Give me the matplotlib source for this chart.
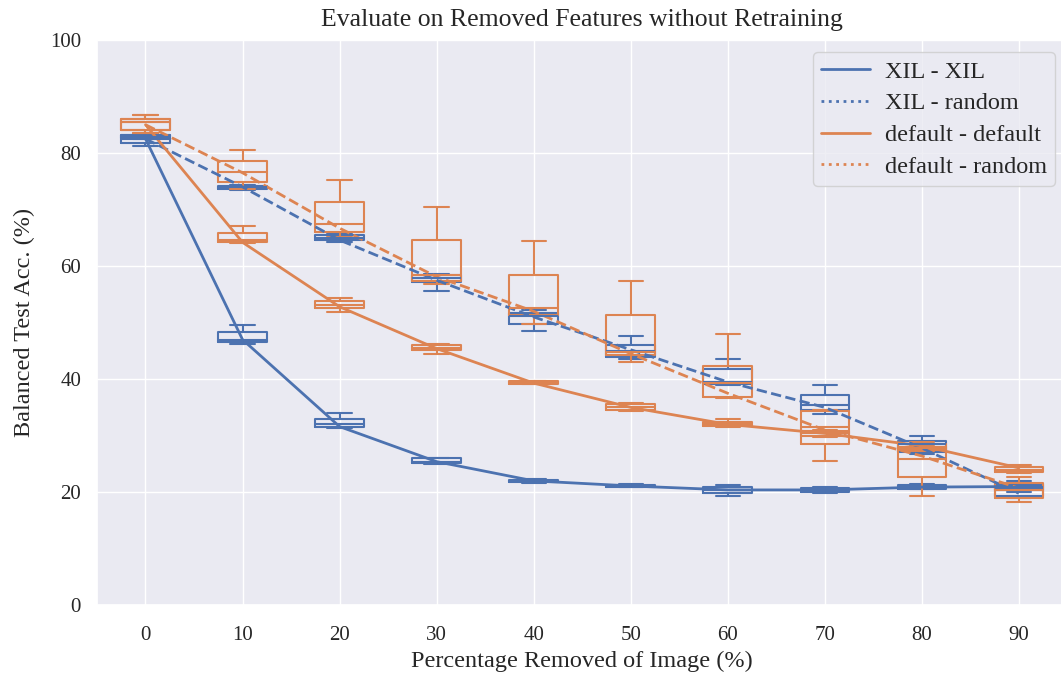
import numpy as np
import matplotlib
matplotlib.use('Agg')
import matplotlib.pyplot as plt
from matplotlib.lines import Line2D
import seaborn as sns

sns.set_theme(style='darkgrid')
plt.rcParams['font.family'] = ['Liberation Serif', 'DejaVu Serif']

removed = [0, 10, 20, 30, 40, 50, 60, 70, 80, 90]

# box stats per x: whislo, q1, med, q3, whishi
xil_xil_box = [[81.2, 81.7, 82.4, 83.2, 83.4], [46.3, 46.6, 47.0, 48.3, 49.6],
               [31.4, 31.6, 32.0, 32.9, 34.0], [25.0, 25.1, 25.4, 26.0, 26.1],
               [21.7, 21.8, 22.0, 22.2, 22.3], [20.9, 21.0, 21.1, 21.3, 21.4],
               [19.3, 19.9, 20.4, 20.9, 21.2], [19.9, 20.1, 20.4, 20.7, 20.9],
               [20.5, 20.6, 20.9, 21.3, 21.5], [20.1, 20.4, 20.9, 21.2, 21.4]]
xil_random_box = [[82.4, 82.6, 82.9, 83.2, 83.4], [73.5, 73.7, 74.0, 74.2, 74.4],
                  [64.3, 64.6, 65.0, 65.5, 65.8], [55.6, 57.1, 57.9, 58.4, 58.6],
                  [48.5, 49.7, 51.2, 51.7, 52.2], [43.5, 43.9, 45.0, 46.1, 47.6],
                  [39.0, 39.2, 39.5, 41.8, 43.5], [33.8, 34.5, 35.4, 37.2, 38.9],
                  [26.8, 27.1, 28.5, 29.1, 30.0], [19.0, 19.3, 20.6, 21.5, 22.0]]
default_default_box = [[83.6, 84.1, 85.5, 86.1, 86.7], [64.0, 64.3, 64.6, 65.8, 67.0],
                       [51.9, 52.5, 53.1, 53.8, 54.4], [44.5, 45.1, 45.5, 46.0, 46.3],
                       [39.1, 39.2, 39.4, 39.6, 39.7], [34.4, 34.6, 35.1, 35.6, 35.8],
                       [31.5, 31.7, 32.0, 32.4, 33.0], [29.8, 30.0, 30.4, 30.8, 31.0],
                       [27.3, 27.5, 27.9, 28.5, 28.8], [23.4, 23.6, 24.0, 24.5, 24.8]]
default_random_box = [[83.6, 84.1, 85.5, 86.1, 86.7], [73.6, 74.9, 76.6, 78.6, 80.5],
                      [65.2, 66.1, 67.4, 71.3, 75.3], [56.9, 57.3, 58.4, 64.6, 70.4],
                      [49.7, 51.3, 52.5, 58.4, 64.5], [43.1, 44.2, 44.8, 51.3, 57.4],
                      [36.7, 36.9, 39.3, 42.4, 47.9], [25.5, 28.5, 31.6, 34.4, 34.6],
                      [19.3, 22.6, 25.8, 28.0, 28.4], [18.3, 18.9, 20.3, 21.7, 22.6]]

# mean lines
xil_xil_mean = [82.5, 47.0, 31.6, 25.4, 22.0, 21.1, 20.4, 20.4, 20.9, 21.0]
xil_random_mean = [82.5, 74.0, 64.6, 57.5, 51.0, 45.2, 39.5, 35.0, 27.8, 19.8]
default_default_mean = [85.0, 64.2, 52.8, 45.4, 39.3, 35.0, 32.0, 30.4, 28.2, 24.3]
default_random_mean = [85.0, 76.5, 66.7, 58.1, 52.0, 44.5, 37.5, 31.0, 26.4, 20.7]

blue = '#4c72b0'
orange = '#dd8452'

fig = plt.figure(figsize=(10.61, 6.77), dpi=100)
# original figure looks cropped on the right, so the axes runs a bit past the edge
ax = fig.add_axes([0.0914, 0.106, 0.9146, 0.835])

def draw_boxes(boxes, color):
    stats = []
    for b in boxes:
        stats.append(dict(whislo=b[0], q1=b[1], med=b[2], q3=b[3], whishi=b[4], fliers=[]))
    lp = dict(color=color, linewidth=1.5)
    ax.bxp(stats, positions=removed, widths=5, showfliers=False, patch_artist=False,
           boxprops=lp, whiskerprops=lp, capprops=lp, medianprops=lp, manage_ticks=False)

draw_boxes(xil_xil_box, blue)
draw_boxes(xil_random_box, blue)
draw_boxes(default_default_box, orange)
draw_boxes(default_random_box, orange)

ax.plot(removed, xil_xil_mean, color=blue, lw=2)
ax.plot(removed, xil_random_mean, color=blue, lw=2, ls='--')
ax.plot(removed, default_default_mean, color=orange, lw=2)
ax.plot(removed, default_random_mean, color=orange, lw=2, ls='--')

ax.set_xlim(-5, 95)
ax.set_ylim(0, 100)
ax.set_xticks(removed)
ax.set_yticks([0, 20, 40, 60, 80, 100])
ax.tick_params(labelsize=15)
ax.tick_params(axis='x', pad=9)
ax.tick_params(axis='y', pad=5.5)
ax.set_xlabel('Percentage Removed of Image (%)', fontsize=17.5)
ax.set_ylabel('Balanced Test Acc. (%)', fontsize=17.5, labelpad=11)
ax.set_title('Evaluate on Removed Features without Retraining', fontsize=18.5, pad=10)

handles = [Line2D([0], [0], color=blue, lw=2),
           Line2D([0], [0], color=blue, lw=2, ls=':'),
           Line2D([0], [0], color=orange, lw=2),
           Line2D([0], [0], color=orange, lw=2, ls=':')]
ax.legend(handles, ['XIL - XIL', 'XIL - random', 'default - default', 'default - random'],
          loc='upper right', fontsize=17.5, labelspacing=0.4, handletextpad=0.6,
          borderpad=0.35)

fig.savefig('out.png', dpi=100)
